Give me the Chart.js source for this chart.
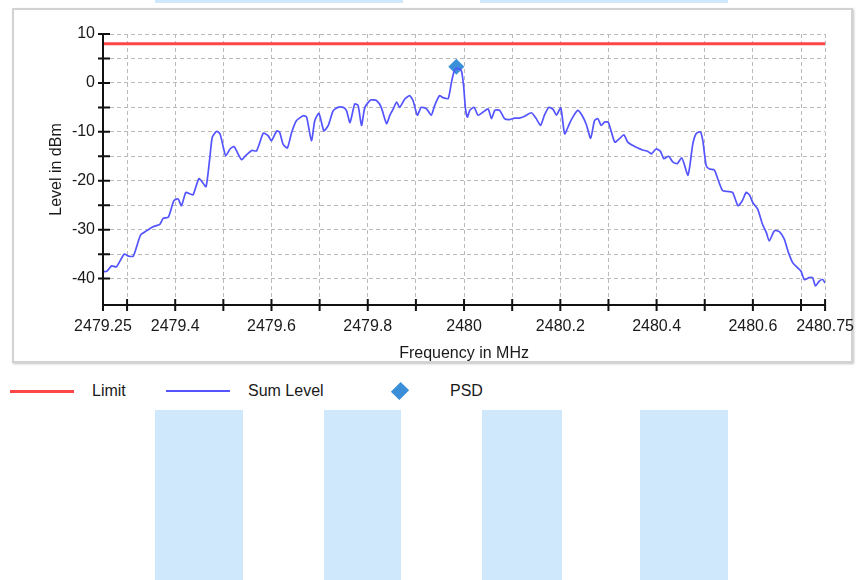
<!DOCTYPE html>
<html>
<head>
<meta charset="utf-8">
<script src="https://cdn.jsdelivr.net/npm/chart.js@4/dist/chart.umd.min.js"></script>
<style>
body { margin: 0; background: #fff; font-family: "Liberation Sans", Arial, sans-serif; }
#wrap { position: relative; width: 866px; height: 580px; overflow: hidden; }
.strip { position: absolute; background: #cfe8fc; }
#box { position: absolute; left: 12px; top: 8px; width: 837px; height: 351px; border: 2px solid #d2d2d2; box-shadow: 1px 1px 2px #c4c4c4; }
#graficaPSD { position: absolute; left: 0; top: 0; }
.leg { position: absolute; top: 381px; height: 20px; display: flex; align-items: center; font-size: 16px; color: #1a1a1a; }
.leg .ico { width: 64px; height: 20px; position: relative; margin-right: 18px; }
</style>
</head>
<body>
<div id="wrap">
  <div class="strip" style="left:155px;top:0;width:248px;height:3px"></div>
  <div class="strip" style="left:480px;top:0;width:248px;height:3px"></div>
  <div class="strip" style="left:155px;top:410px;width:88px;height:170px"></div>
  <div class="strip" style="left:324px;top:410px;width:77px;height:170px"></div>
  <div class="strip" style="left:482px;top:410px;width:80px;height:170px"></div>
  <div class="strip" style="left:640px;top:410px;width:88px;height:170px"></div>
  <div id="box"></div>
  <canvas id="graficaPSD" width="866" height="370"></canvas>
  <div id="leyenda"></div>
</div>
<script>
// datos
const sumFreq = [
2479.250, 2479.258, 2479.268, 2479.278, 2479.294, 2479.303, 2479.313, 2479.328, 2479.341, 2479.354,
2479.368, 2479.375, 2479.386, 2479.397, 2479.406, 2479.413, 2479.422, 2479.431, 2479.437, 2479.449,
2479.455, 2479.464, 2479.472, 2479.477, 2479.486, 2479.493, 2479.500, 2479.505, 2479.514, 2479.522,
2479.529, 2479.538, 2479.545, 2479.559, 2479.569, 2479.583, 2479.593, 2479.600, 2479.611, 2479.617,
2479.624, 2479.633, 2479.642, 2479.652, 2479.666, 2479.673, 2479.683, 2479.690, 2479.698, 2479.702,
2479.709, 2479.718, 2479.728, 2479.738, 2479.749, 2479.756, 2479.763, 2479.773, 2479.780, 2479.787,
2479.794, 2479.806, 2479.818, 2479.828, 2479.839, 2479.846, 2479.853, 2479.860, 2479.866, 2479.877,
2479.887, 2479.894, 2479.903, 2479.911, 2479.922, 2479.932, 2479.939, 2479.949, 2479.956, 2479.967,
2479.974, 2479.979, 2479.984, 2479.994, 2479.999, 2480.003, 2480.007, 2480.012, 2480.021, 2480.029,
2480.039, 2480.050, 2480.057, 2480.064, 2480.074, 2480.084, 2480.095, 2480.105, 2480.115, 2480.126,
2480.140, 2480.150, 2480.159, 2480.167, 2480.176, 2480.185, 2480.192, 2480.201, 2480.209, 2480.219,
2480.226, 2480.236, 2480.245, 2480.254, 2480.263, 2480.271, 2480.278, 2480.285, 2480.292, 2480.300,
2480.313, 2480.323, 2480.332, 2480.340, 2480.351, 2480.361, 2480.371, 2480.382, 2480.389, 2480.399,
2480.408, 2480.415, 2480.425, 2480.434, 2480.443, 2480.452, 2480.458, 2480.465, 2480.469, 2480.475,
2480.482, 2480.491, 2480.496, 2480.503, 2480.510, 2480.520, 2480.527, 2480.537, 2480.548, 2480.558,
2480.569, 2480.578, 2480.586, 2480.593, 2480.600, 2480.610, 2480.620, 2480.628, 2480.634, 2480.645,
2480.655, 2480.665, 2480.674, 2480.683, 2480.693, 2480.700, 2480.707, 2480.717, 2480.724, 2480.730,
2480.738, 2480.745, 2480.750
];
const sumLevel = [
-38.6, -38.5, -37.4, -37.6, -35.0, -35.4, -35.4, -31.1, -30.2, -29.4,
-28.9, -27.7, -27.4, -24.1, -23.7, -25.1, -22.4, -22.7, -22.9, -19.6,
-20.1, -21.2, -15.2, -11.1, -9.9, -10.4, -13.2, -14.9, -13.5, -13.0,
-14.2, -15.7, -15.0, -13.8, -13.9, -10.3, -10.8, -11.8, -9.8, -10.1,
-12.5, -13.3, -10.1, -7.7, -6.7, -7.0, -11.8, -7.7, -6.2, -7.3,
-9.8, -8.7, -5.7, -5.0, -5.0, -5.7, -8.1, -4.3, -4.6, -8.7,
-5.0, -3.5, -3.6, -5.0, -8.3, -6.6, -5.3, -3.9, -5.0, -3.3,
-2.6, -3.6, -6.6, -5.0, -5.3, -6.6, -4.6, -2.6, -3.0, -3.2,
0.2, 2.3, 3.0, 2.6, -0.5, -5.3, -7.0, -5.6, -5.0, -6.6,
-6.0, -5.3, -7.3, -5.6, -5.6, -7.3, -7.5, -7.2, -7.2, -6.8,
-6.1, -7.3, -8.7, -6.6, -5.0, -5.4, -6.6, -5.1, -10.4, -8.3,
-7.0, -5.6, -6.6, -8.5, -11.3, -7.7, -7.3, -8.7, -8.0, -8.1,
-12.1, -11.4, -10.6, -12.1, -12.8, -13.3, -13.7, -14.0, -14.5, -13.5,
-14.0, -15.5, -15.0, -16.2, -16.5, -15.3, -16.8, -18.9, -17.0, -12.6,
-10.4, -10.0, -11.8, -16.9, -17.6, -17.8, -19.6, -22.0, -22.2, -22.4,
-25.1, -24.1, -22.4, -22.9, -24.5, -25.8, -28.9, -30.6, -32.3, -30.2,
-30.4, -31.9, -34.7, -36.8, -37.8, -38.5, -40.2, -39.8, -39.8, -41.5,
-40.5, -40.2, -40.9
];
const limitFreq = [2479.25, 2480.75];
const limitLevel = [8, 8];
const psdFreq = [2479.984];
const psdLevel = [3.3];

const xTicks = [2479.25, 2479.3, 2479.4, 2479.5, 2479.6, 2479.7, 2479.8, 2479.9, 2480.0,
  2480.1, 2480.2, 2480.3, 2480.4, 2480.5, 2480.6, 2480.7, 2480.75];
const xTickLabels = ['2479.25', '', '2479.4', '', '2479.6', '', '2479.8', '', '2480',
  '', '2480.2', '', '2480.4', '', '2480.6', '', '2480.75'];
const yTicks = [-40, -35, -30, -25, -20, -15, -10, -5, 0, 5, 10];
const yTickLabels = ['-40', '', '-30', '', '-20', '', '-10', '', '0', '', '10'];

const pares = (xs, ys) => xs.map((v, i) => ({x: v, y: ys[i]}));

// ejes negros con marcas que cruzan el eje
const ejesCruzados = {
  id: 'ejesCruzados',
  afterDraw(chart) {
    const {ctx, chartArea: a, scales: {x, y}} = chart;
    ctx.save();
    ctx.strokeStyle = '#111';
    ctx.lineWidth = 2;
    ctx.beginPath();
    ctx.moveTo(a.left, a.top);
    ctx.lineTo(a.left, a.bottom);
    ctx.lineTo(a.right, a.bottom);
    x.ticks.forEach(t => {
      const px = x.getPixelForValue(t.value);
      ctx.moveTo(px, a.bottom - 6);
      ctx.lineTo(px, a.bottom + 6);
    });
    y.ticks.forEach(t => {
      const py = y.getPixelForValue(t.value);
      ctx.moveTo(a.left - 5, py);
      ctx.lineTo(a.left + 7, py);
    });
    ctx.stroke();
    ctx.restore();
  }
};

const fuente = {family: '"Liberation Sans", Arial, sans-serif', size: 16};

const ctx = document.getElementById('graficaPSD');
const chart = new Chart(ctx, {
  type: 'scatter',
  data: {
    datasets: [{
      label: 'Limit',
      data: pares(limitFreq, limitLevel),
      showLine: true,
      borderColor: '#ff4646',
      backgroundColor: '#ff4646',
      borderWidth: 3,
      pointRadius: 0
    }, {
      label: 'Sum Level',
      data: pares(sumFreq, sumLevel),
      showLine: true,
      borderColor: '#5454ff',
      backgroundColor: '#5454ff',
      borderWidth: 1.7,
      pointRadius: 0,
      tension: 0.2
    }, {
      label: 'PSD',
      data: pares(psdFreq, psdLevel),
      pointStyle: 'rectRot',
      pointRadius: 8,
      backgroundColor: '#3a8fd8',
      borderColor: '#3a8fd8',
      borderWidth: 0
    }]
  },
  options: {
    responsive: false,
    animation: false,
    layout: {padding: {left: 0, right: 40, top: 34, bottom: 0}},
    plugins: {legend: {display: false}, tooltip: {enabled: false}},
    scales: {
      x: {
        type: 'linear',
        min: 2479.25,
        max: 2480.75,
        afterBuildTicks: s => { s.ticks = xTicks.map(v => ({value: v})); },
        afterFit: s => { s.height = 65; },
        grid: {color: '#bababa', lineWidth: 1, drawTicks: false},
        border: {display: false, dash: [4, 3]},
        ticks: {
          autoSkip: false, maxRotation: 0, padding: 12, color: '#1a1a1a', font: fuente,
          callback: (v, i) => xTickLabels[i]
        },
        title: {display: true, text: 'Frequency in MHz', color: '#1a1a1a', font: fuente, padding: {top: 0, bottom: 7}}
      },
      y: {
        min: -45.4,
        max: 10,
        afterBuildTicks: s => { s.ticks = yTicks.map(v => ({value: v})); },
        afterFit: s => { s.width = 103; },
        grid: {color: '#bababa', lineWidth: 1, drawTicks: false},
        border: {display: false, dash: [4, 3]},
        ticks: {
          autoSkip: false, padding: 8, color: '#1a1a1a', font: fuente,
          callback: (v, i) => yTickLabels[i]
        },
        title: {display: true, text: 'Level in dBm', color: '#1a1a1a', font: fuente, padding: {top: 47, bottom: 0}}
      }
    }
  },
  plugins: [ejesCruzados]
});

// leyenda en html a partir de los datasets
const posLeyenda = [10, 166, 368];
const ley = document.getElementById('leyenda');
chart.data.datasets.forEach((ds, i) => {
  const item = document.createElement('div');
  item.className = 'leg';
  item.style.left = posLeyenda[i] + 'px';
  const ico = document.createElement('div');
  ico.className = 'ico';
  if (ds.pointStyle === 'rectRot') {
    ico.innerHTML = '<div style="position:absolute;left:26px;top:4px;width:12px;height:12px;background:' +
      ds.backgroundColor + ';transform:rotate(45deg) scaleY(1.15)"></div>';
  } else {
    ico.innerHTML = '<div style="position:absolute;left:0;top:' + (10 - ds.borderWidth / 2) + 'px;width:64px;height:' +
      ds.borderWidth + 'px;background:' + ds.borderColor + '"></div>';
  }
  item.appendChild(ico);
  const txt = document.createElement('span');
  txt.textContent = ds.label;
  item.appendChild(txt);
  ley.appendChild(item);
});
</script>
</body>
</html>
